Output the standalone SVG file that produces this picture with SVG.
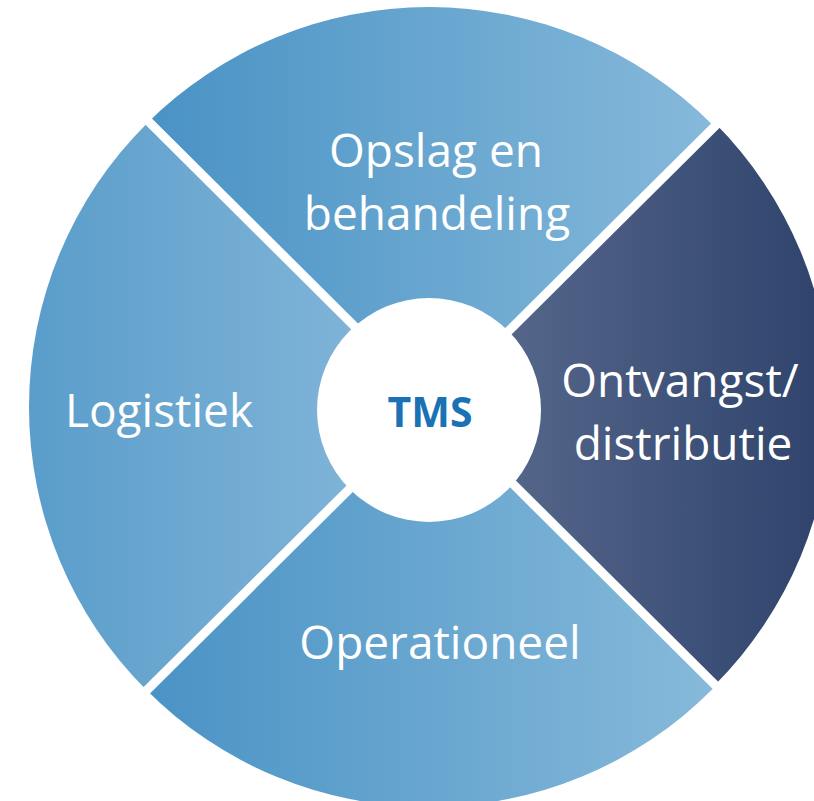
<svg xmlns="http://www.w3.org/2000/svg" width="814" height="801" viewBox="0 0 814 801">
  <style>
    .lbl { font-family: "Open Sans", "Liberation Sans", sans-serif; font-size: 46px; fill: #ffffff; text-anchor: middle; }
    .gap { stroke: #ffffff; stroke-width: 9; fill: none; }
    .center { font-family: "Open Sans", "Liberation Sans", sans-serif; font-size: 41px; font-weight: bold; fill: #1a72b4; text-anchor: middle; }
  </style>
  <defs>
    <clipPath id="outer"><circle cx="429" cy="407" r="400"/></clipPath>
    <clipPath id="outerR"><circle cx="433" cy="404" r="398"/></clipPath>
    <linearGradient id="gTop" gradientUnits="userSpaceOnUse" x1="156" y1="0" x2="711" y2="0">
      <stop offset="0" stop-color="#4a93c5"/>
      <stop offset="1" stop-color="#86b9da"/>
    </linearGradient>
    <linearGradient id="gLeft" gradientUnits="userSpaceOnUse" x1="29" y1="0" x2="360" y2="0">
      <stop offset="0" stop-color="#5a9dca"/>
      <stop offset="1" stop-color="#80b4d8"/>
    </linearGradient>
    <linearGradient id="gBottom" gradientUnits="userSpaceOnUse" x1="147" y1="0" x2="709" y2="0">
      <stop offset="0" stop-color="#4a93c5"/>
      <stop offset="1" stop-color="#86b9da"/>
    </linearGradient>
    <linearGradient id="gRight" gradientUnits="userSpaceOnUse" x1="505" y1="0" x2="814" y2="0">
      <stop offset="0" stop-color="#55668a"/>
      <stop offset="1" stop-color="#30446d"/>
    </linearGradient>
  </defs>

  <g id="opslag">
    <polygon clip-path="url(#outer)" fill="url(#gTop)" points="433.7,405.3 95.7,68.9 95,-50 771,-50 771.3,70.1"/>
    <text class="lbl" x="436" y="167">Opslag en</text>
    <text class="lbl" x="437" y="230">behandeling</text>
  </g>
  <g id="logistiek">
    <polygon clip-path="url(#outer)" fill="url(#gLeft)" points="433.7,405.3 95.7,68.9 -50,69 -50,750 86.1,750.5"/>
    <text class="lbl" x="159" y="427">Logistiek</text>
  </g>
  <g id="operationeel">
    <polygon clip-path="url(#outer)" fill="url(#gBottom)" points="433.7,405.3 86.1,750.5 86,900 768,900 767.7,737.3"/>
    <text class="lbl" x="440" y="659">Operationeel</text>
  </g>
  <g id="ontvangst">
    <polygon clip-path="url(#outerR)" fill="url(#gRight)" points="433.7,405.3 771.3,70.1 900,70 900,737 767.7,737.3"/>
    <text class="lbl" x="680" y="397">Ontvangst/</text>
    <text class="lbl" x="683" y="460">distributie</text>
  </g>

  <g id="connectors">
    <line class="gap" x1="95.7" y1="68.9" x2="767.7" y2="737.3"/>
    <line class="gap" x1="771.3" y1="70.1" x2="86.1" y2="750.5"/>
  </g>

  <g id="tms">
    <circle cx="429" cy="410" r="112" fill="#ffffff"/>
    <text class="center" x="430" y="427">TMS</text>
  </g>
</svg>
